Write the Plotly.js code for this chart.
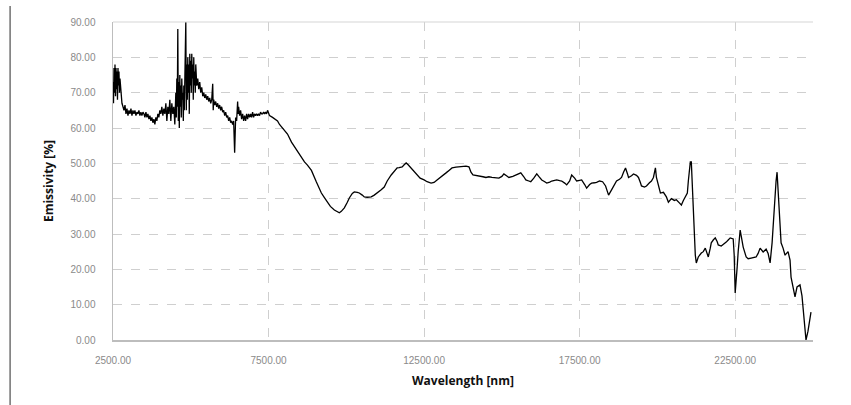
<!DOCTYPE html>
<html>
<head>
<meta charset="utf-8">
<script src="https://cdn.plot.ly/plotly-3.0.1.min.js"></script>
<style>html,body{margin:0;padding:0;background:#fff;}#chart{width:851px;height:405px;}</style>
</head>
<body>
<div id="chart"></div>
<script>
// Wavelength [nm]
const wavelength = [
2500,2516,2532,2548,2564,2580,2596,2612,2628,2644,2660,2676,2692,2708,2724,2756,2788,2821,2853,2885,
2917,2949,2981,3013,3045,3077,3109,3141,3173,3205,3237,3269,3301,3333,3365,3397,3429,3462,3494,3526,
3558,3590,3622,3654,3686,3718,3750,3782,3814,3846,3878,3910,3942,3974,4006,4038,4070,4103,4135,4167,
4199,4231,4263,4295,4327,4359,4391,4423,4455,4487,4519,4535,4551,4567,4583,4599,4615,4631,4647,4663,
4679,4695,4711,4728,4744,4760,4776,4792,4808,4824,4840,4856,4872,4888,4904,4920,4936,4952,4968,4984,
5000,5016,5032,5048,5064,5080,5096,5112,5128,5144,5160,5192,5224,5256,5288,5320,5352,5385,5417,5449,
5481,5513,5545,5577,5609,5641,5673,5705,5721,5737,5769,5801,5833,5865,5897,5929,5961,5993,6026,6058,
6090,6122,6154,6186,6218,6250,6282,6314,6346,6378,6410,6426,6442,6474,6506,6522,6538,6570,6602,6634,
6667,6699,6731,6763,6795,6827,6859,6891,6923,6955,6987,7019,7051,7083,7115,7147,7179,7211,7243,7275,
7308,7340,7372,7404,7436,7468,7500,7532,
7628,7788,7852,7981,8109,8237,8397,8525,8654,8750,8878,9038,9198,9295,9391,9487,9615,9711,9775,9839,
9936,10032,10096,10192,10256,10352,10416,10513,10577,10673,10801,10897,10993,11121,11218,11314,11442,11538,11634,11698,
11795,11859,11923,11987,12083,12179,12275,12372,12500,12596,12724,12820,12916,12980,13077,13205,13301,13397,13525,13621,
13750,13846,13942,14006,14070,14166,14262,14391,14487,14583,14679,14807,14903,15000,15064,15160,15224,15352,15448,15544,
15608,15705,15769,15865,15929,16025,16121,16185,16282,16378,16442,16538,16602,16698,16762,16858,16923,17019,17083,17179,
17243,17339,17403,17499,17564,17660,17724,17820,17884,17980,18044,18140,18237,18333,18429,18525,18621,18685,18781,18846,
18910,18974,19038,19070,19166,19230,19326,19390,19454,19487,19583,19647,19743,19807,19871,19935,19967,20031,20095,20192,
20288,20352,20448,20544,20608,20704,20769,20833,20897,20961,20993,21025,21057,21089,21121,21153,21185,21217,21249,21313,
21410,21474,21538,21602,21634,21698,21730,21794,21858,21922,21954,22051,22115,22211,22275,22339,22435,22467,22499,22531,
22563,22595,22627,22659,22692,22756,22852,22916,23012,23108,23172,23236,23300,23397,23493,23557,23621,23685,23749,23781,
23813,23845,23877,23909,23941,23974,24038,24102,24198,24262,24294,24358,24422,24486,24582,24646,24678,24710,24742,24775,
24839,24871,24935
];
// Emissivity [%]
const emissivity = [
73,67,77,70,78,69,77,71,76,68,77,72,76,70,74,69,67,66,65,66.5,
64,65.5,63.5,65,64,65.5,63.5,65,64,65,63.5,64.5,64,65,63.5,64.5,63.5,64.5,64,63,
64.5,63,64,62.5,63.5,62,63,61.5,62.5,61,63,62,64,63,65,64,66,63.5,65.5,64,
67,62,66,64,68,62,67,64,66,61,70,63,74,66,88,62,73,60,75,66,
72,63,74,68,70,62,72,65,75,70,90,65,78,68,80,70,78,64,81,72,
79,70,81,74,78,68,80,72,76,70,78,72,74,71,73,70,71.5,69,70,68.5,
69.5,68,69,67.5,68.5,67,68,72.5,65,68,66.5,67.5,66,67,65.5,66.5,65,66,64.5,65,
63.5,64.5,63,63.5,62,63,61.5,62,61,62,53,61,63,62,67.5,64,66,63.5,65,62.5,
64,62,63.5,62,64,62.5,64,63,64,63,64.5,63,64,63.5,64,63.5,64,63.5,64.5,64,
64,64.5,64,64.5,64,65,64,63.5,
63,62,61,59.5,58.3,56,53.8,52,50.4,49.5,48,44.7,41.6,40.3,39,37.8,36.8,36.2,36,36.4,
37.4,39,40.2,41.5,41.9,41.8,41.6,41,40.5,40.4,40.5,41,41.6,42.5,43.3,45,46.7,47.8,48.7,48.8,
49,49.6,50.1,49.6,48.7,47.6,46.7,45.8,45.3,44.8,44.4,44.6,45.3,45.8,46.5,47.3,48,48.7,48.9,49,
49,49.2,49,47.5,46.7,46.6,46.4,46.2,46,46.2,46,45.9,45.8,46.3,47,46.4,46,46.3,46.7,46.9,
47.3,46.2,45.3,45,44.8,45.8,47,46.3,45.3,44.8,44.4,44.7,45,45.2,45.3,45.1,45,44.4,43.9,45,
46.7,45.8,45,45.2,45.3,44,43,44,44.4,44.5,44.6,45,44.8,43.6,41,42.5,44,45,45.5,46,
47.5,48.7,47,46,46.5,47,46.6,46,44.5,43.6,43.3,43.6,44.5,45,46,48.7,46,43.5,41.6,41.8,
40.5,39,40,39.5,39.7,38.8,38.2,39.5,40.8,41.6,45,49,50.4,50.4,44,35,29.7,24,21.8,23.5,
24.6,25,26,24.5,23.5,26,27.5,28.3,28.9,27.8,26.9,26.6,27,27.7,28.3,28.9,28.6,24,13.3,16,
20.7,25,29,31.1,29.5,26.3,23.5,23,23.2,23.4,23.5,24.5,26,24.9,25.7,24.5,21.8,27.5,36.8,42.5,
45,47.5,42,36.8,29.2,27.5,26,24,25,22.6,17.8,15,12.2,15,15.6,12.5,9.3,6,2.8,0,
2.5,4.8,7.9
];
const xTicks = [2500, 7500, 12500, 17500, 22500];
const yTicks = [0, 10, 20, 30, 40, 50, 60, 70, 80, 90];

const trace = {
  x: wavelength, y: emissivity, type: 'scatter', mode: 'lines',
  line: {color: '#000000', width: 1.3},
  hoverinfo: 'x+y', showlegend: false
};

const layout = {
  width: 851, height: 405,
  margin: {l: 113, r: 38, t: 22, b: 65},
  paper_bgcolor: '#ffffff', plot_bgcolor: '#ffffff',
  font: {family: 'Liberation Sans, Arial, sans-serif', size: 10, color: '#8a8a8a'},
  xaxis: {
    range: [2500, 25000], tickvals: xTicks, tickformat: '.2f',
    showgrid: true, gridcolor: '#cfcfcf', griddash: 'dash', gridwidth: 1,
    showline: true, linecolor: '#bdbdbd', linewidth: 1.5,
    zeroline: false, ticks: '', ticklabelstandoff: 10,
    tickfont: {size: 10, color: '#8a8a8a'},
    title: {text: 'Wavelength [nm]', standoff: 12,
      font: {family: 'Open Sans, Liberation Sans, sans-serif', size: 12, color: '#111', weight: 'bold'}}
  },
  yaxis: {
    range: [0, 90], tickvals: yTicks, tickformat: '.2f',
    showgrid: true, gridcolor: '#cfcfcf', griddash: 'dash', gridwidth: 1,
    showline: true, linecolor: '#bdbdbd', linewidth: 1.5,
    zeroline: false, ticks: '', ticklabelstandoff: 14,
    tickfont: {size: 10, color: '#8a8a8a'},
    title: {text: 'Emissivity [%]', standoff: 14,
      font: {family: 'Open Sans, Liberation Sans, sans-serif', size: 12, color: '#111', weight: 'bold'}}
  },
  shapes: [
    {type: 'line', xref: 'paper', yref: 'paper', x0: -0.147, x1: -0.147, y0: -0.21, y1: 1.05,
     line: {color: '#707070', width: 1.5}},
    {type: 'line', xref: 'paper', yref: 'paper', x0: 0, x1: 1, y0: 1, y1: 1,
     line: {color: '#d6d6d6', width: 1.2}}
  ]
};

Plotly.newPlot('chart', [trace], layout, {displayModeBar: false, staticPlot: true});
</script>
</body>
</html>
